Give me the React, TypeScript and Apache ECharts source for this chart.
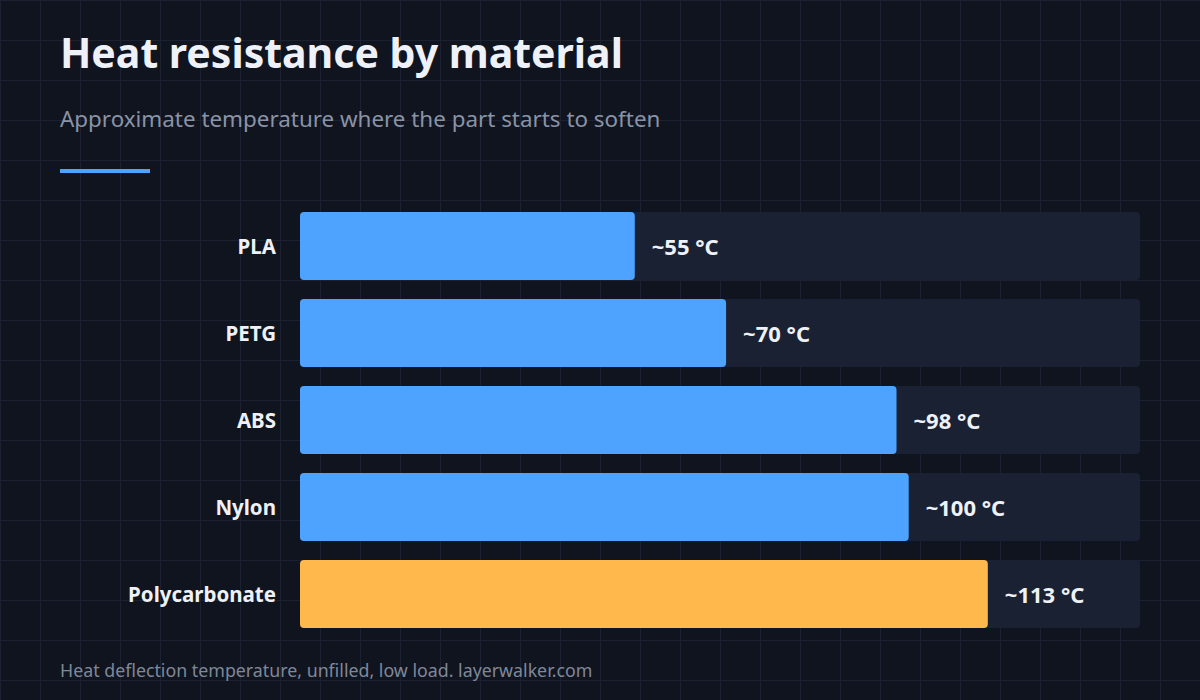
import { useEffect, useRef } from "react";
import * as echarts from "echarts";

// data
const materials = ["PLA", "PETG", "ABS", "Nylon", "Polycarbonate"];
const softenTemps = [55, 70, 98, 100, 113];
const highlighted = "Polycarbonate";
const axisMax = 138;

const BG = "#10141f";
const GRID_LINE = "#1b2130";
const BLUE = "#4da3ff";
const ORANGE = "#ffb84b";
const TRACK = "#1a2132";
const FONT = "'Noto Sans', 'Open Sans', sans-serif";

function App() {
  const chartRef = useRef(null);

  useEffect(() => {
    const chart = echarts.init(chartRef.current, null, { renderer: "svg" });

    const option = {
      animation: false,
      backgroundColor: "transparent",
      textStyle: { fontFamily: FONT },
      grid: { left: 300, right: 60, top: 202.5, height: 435 },
      xAxis: {
        type: "value",
        min: 0,
        max: axisMax,
        show: false,
      },
      yAxis: {
        type: "category",
        data: materials,
        inverse: true,
        axisLine: { show: false },
        axisTick: { show: false },
        splitLine: { show: false },
        axisLabel: {
          color: "#eef1f7",
          fontSize: 20.5,
          fontWeight: "bold",
          fontFamily: FONT,
          margin: 24,
        },
      },
      series: [
        {
          type: "bar",
          barWidth: 68,
          showBackground: true,
          backgroundStyle: { color: TRACK, borderRadius: 4 },
          data: softenTemps.map((v, i) => ({
            value: v,
            itemStyle: {
              color: materials[i] === highlighted ? ORANGE : BLUE,
              borderRadius: 4,
            },
          })),
          label: {
            show: true,
            position: "right",
            distance: 17,
            color: "#eef1f7",
            fontSize: 22,
            fontWeight: "bold",
            fontFamily: FONT,
            formatter: (p: any) => `~${p.value} °C`,
          },
        },
      ],
      graphic: [
        {
          type: "text",
          left: 60,
          top: 31,
          style: {
            text: "Heat resistance by material",
            fill: "#eef1f8",
            font: `bold 41px ${FONT}`,
          },
        },
        {
          type: "text",
          left: 60,
          top: 107,
          style: {
            text: "Approximate temperature where the part starts to soften",
            fill: "#8a93a6",
            font: `22.4px ${FONT}`,
          },
        },
        {
          type: "rect",
          shape: { x: 60, y: 169, width: 90, height: 4 },
          style: { fill: BLUE },
        },
        {
          type: "text",
          left: 60,
          top: 661,
          style: {
            text: "Heat deflection temperature, unfilled, low load. layerwalker.com",
            fill: "#7f8899",
            font: `17.8px ${FONT}`,
          },
        },
      ],
    };

    chart.setOption(option);
    return () => {
      chart.dispose();
    };
  }, []);

  return (
    <div
      style={{
        position: "fixed",
        left: 0,
        top: 0,
        width: 1200,
        height: 700,
        backgroundColor: BG,
        backgroundImage: `linear-gradient(${GRID_LINE} 1px, transparent 1px), linear-gradient(90deg, ${GRID_LINE} 1px, transparent 1px)`,
        backgroundSize: "40px 40px",
      }}
    >
      <div ref={chartRef} style={{ width: 1200, height: 700 }}></div>
    </div>
  );
}

export default App;
